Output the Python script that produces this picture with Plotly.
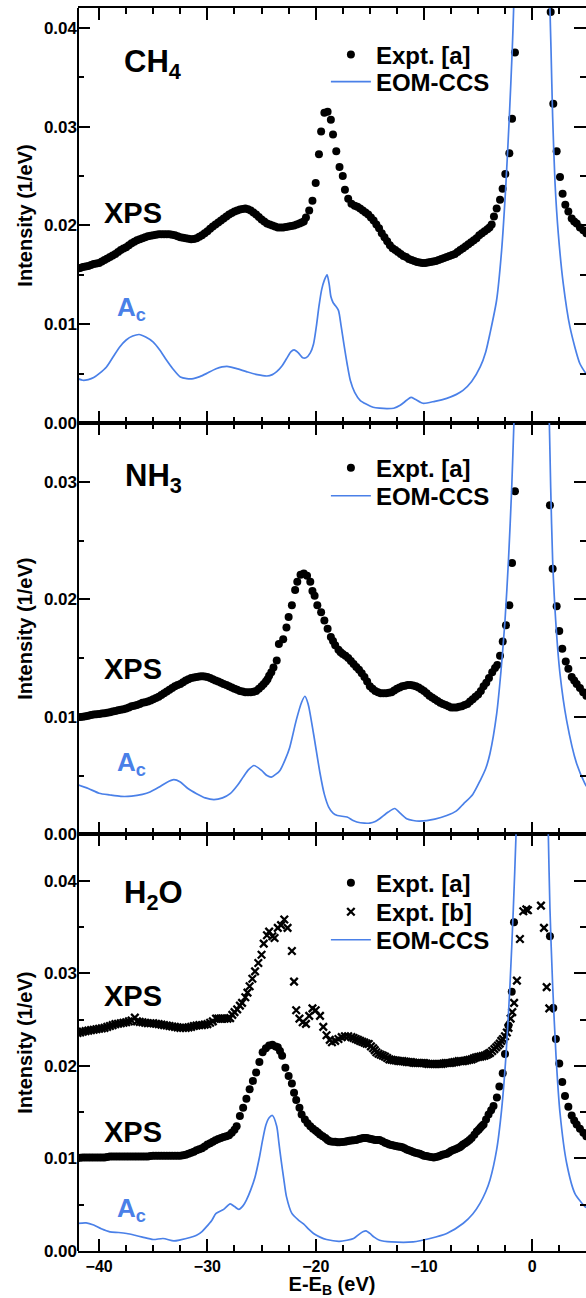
import plotly.graph_objects as go
from plotly.subplots import make_subplots

FONT = "Liberation Sans"
BLUE = "#4a80e8"

# ---------------- data (E - E_B in eV, intensity in 1/eV) ----------------
ch4_xps = [(-42.0, 0.01564), (-41.75, 0.0157), (-41.5, 0.0158), (-41.25, 0.01585), (-41.0, 0.0159),
           (-40.75, 0.0160), (-40.5, 0.0161), (-40.25, 0.01615), (-40.0, 0.0162), (-39.75, 0.01635),
           (-39.5, 0.0165), (-39.25, 0.01665), (-39.0, 0.0168), (-38.75, 0.01695), (-38.5, 0.0171),
           (-38.25, 0.0173), (-38.0, 0.0175), (-37.75, 0.01765), (-37.5, 0.0178), (-37.25, 0.0180),
           (-37.0, 0.0182), (-36.75, 0.01835), (-36.5, 0.0185), (-36.25, 0.0186), (-36.0, 0.0187),
           (-35.75, 0.0188), (-35.5, 0.0189), (-35.25, 0.01895), (-35.0, 0.0190), (-34.75, 0.01905),
           (-34.5, 0.0191), (-34.25, 0.0191), (-34.0, 0.0191), (-33.75, 0.0191), (-33.5, 0.0191),
           (-33.25, 0.01905), (-33.0, 0.0190), (-32.75, 0.0189), (-32.5, 0.0188), (-32.25, 0.01875),
           (-32.0, 0.0187), (-31.75, 0.01865), (-31.5, 0.0186), (-31.25, 0.01862), (-31.0, 0.0187),
           (-30.75, 0.01885), (-30.5, 0.0190), (-30.25, 0.0192), (-30.0, 0.0194), (-29.75, 0.01965),
           (-29.5, 0.0199), (-29.25, 0.0201), (-29.0, 0.0203), (-28.75, 0.0205), (-28.5, 0.0207),
           (-28.25, 0.0209), (-28.0, 0.0211), (-27.75, 0.02125), (-27.5, 0.0214), (-27.25, 0.0215),
           (-27.0, 0.0216), (-26.75, 0.02167), (-26.5, 0.0217), (-26.25, 0.02163), (-26.0, 0.0215),
           (-25.75, 0.0213), (-25.5, 0.0211), (-25.25, 0.02085), (-25.0, 0.0206), (-24.75, 0.0204),
           (-24.5, 0.0202), (-24.25, 0.0201), (-24.0, 0.0200), (-23.75, 0.0199), (-23.5, 0.0198),
           (-23.25, 0.0198), (-23.0, 0.0198), (-22.75, 0.01985), (-22.5, 0.0199), (-22.25, 0.01995),
           (-22.0, 0.0200), (-21.75, 0.0201), (-21.5, 0.0202), (-21.3, 0.0203), (-21.1, 0.0204),
           (-20.9, 0.0208), (-20.6, 0.0215), (-20.3, 0.0225), (-20.0, 0.0243), (-19.7, 0.0272),
           (-19.5, 0.0295), (-19.2, 0.0314), (-18.9, 0.0315), (-18.6, 0.0307), (-18.4, 0.0292),
           (-18.1, 0.0275), (-17.8, 0.0259), (-17.5, 0.0250), (-17.3, 0.0236), (-17.0, 0.0227),
           (-16.7, 0.0222), (-16.4, 0.0220), (-16.15, 0.0219), (-15.9, 0.0217), (-15.65, 0.0215),
           (-15.4, 0.0213), (-15.15, 0.0211), (-14.9, 0.0208), (-14.65, 0.0205), (-14.4, 0.0201),
           (-14.15, 0.0197), (-13.9, 0.0192), (-13.65, 0.0188), (-13.4, 0.0184), (-13.15, 0.0180),
           (-12.9, 0.0177), (-12.65, 0.0175), (-12.4, 0.0173), (-12.15, 0.0171), (-11.9, 0.0169),
           (-11.65, 0.0168), (-11.4, 0.0166), (-11.15, 0.0165), (-10.9, 0.0164), (-10.65, 0.0163),
           (-10.4, 0.01625), (-10.15, 0.0162), (-9.9, 0.0162), (-9.65, 0.01625), (-9.4, 0.0163),
           (-9.15, 0.01635), (-8.9, 0.0164), (-8.65, 0.0165), (-8.4, 0.0166), (-8.15, 0.0167),
           (-7.9, 0.0168), (-7.65, 0.0169), (-7.4, 0.0170), (-7.15, 0.0171), (-6.9, 0.0173),
           (-6.65, 0.0175), (-6.4, 0.0177), (-6.15, 0.0179), (-5.9, 0.0181), (-5.65, 0.0183),
           (-5.4, 0.0185), (-5.15, 0.0187), (-4.9, 0.0190), (-4.65, 0.0192), (-4.4, 0.0194),
           (-4.15, 0.0196), (-3.95, 0.0198), (-3.75, 0.0201), (-3.54, 0.0209), (-3.29, 0.0217),
           (-2.98, 0.0226), (-2.74, 0.0237), (-2.49, 0.0252), (-2.12, 0.0273), (-1.87, 0.0308),
           (-1.60, 0.0375),
           (1.70, 0.0416), (1.94, 0.0323), (2.25, 0.0275), (2.56, 0.0249), (2.80, 0.0232),
           (3.05, 0.0221), (3.33, 0.0214), (3.64, 0.0207), (3.87, 0.0204), (4.10, 0.0202),
           (4.4, 0.0198), (4.71, 0.0195), (5.0, 0.0192)]

ch4_eom = [(-42.0, 0.0045), (-41.5, 0.00433), (-41.0, 0.0044), (-40.5, 0.0046), (-40.0, 0.0050),
           (-39.3, 0.0057), (-38.7, 0.0067), (-38.1, 0.0077), (-37.5, 0.0084), (-36.9, 0.0088),
           (-36.3, 0.00896), (-35.7, 0.0087), (-35.0, 0.0082), (-34.4, 0.0074), (-33.8, 0.0064),
           (-33.2, 0.0055), (-32.5, 0.00466), (-31.9, 0.0045), (-31.3, 0.0045), (-30.7, 0.0047),
           (-30.1, 0.0050), (-29.2, 0.0055), (-28.2, 0.00574), (-27.3, 0.0055), (-26.4, 0.0052),
           (-25.4, 0.0049), (-24.5, 0.00476), (-24.0, 0.0049), (-23.6, 0.0052), (-23.1, 0.0058),
           (-22.7, 0.0065), (-22.3, 0.0072), (-22.0, 0.0074), (-21.6, 0.0071), (-21.2, 0.0066),
           (-20.9, 0.0066), (-20.5, 0.0071), (-20.2, 0.0080), (-19.95, 0.0097), (-19.7, 0.0118),
           (-19.45, 0.0135), (-19.2, 0.01446), (-18.95, 0.0150), (-18.75, 0.0140), (-18.6, 0.0128),
           (-18.4, 0.0122), (-18.2, 0.0119), (-17.9, 0.0114), (-17.65, 0.0098), (-17.4, 0.0080),
           (-17.1, 0.0060), (-16.8, 0.0043), (-16.4, 0.0031), (-15.9, 0.0023), (-15.3, 0.0019),
           (-14.7, 0.0016), (-14.1, 0.0015), (-13.4, 0.00146), (-12.8, 0.0015), (-12.2, 0.0018),
           (-11.6, 0.0023), (-11.2, 0.0026), (-10.8, 0.0024), (-10.1, 0.0020), (-9.0, 0.0022),
           (-7.9, 0.0025), (-7.0, 0.0029), (-6.4, 0.0033), (-5.6, 0.0042), (-4.8, 0.0057),
           (-4.3, 0.0072), (-3.9, 0.0091), (-3.3, 0.0124), (-2.83, 0.0175), (-2.43, 0.0243),
           (-2.12, 0.0310), (-1.85, 0.0378), (-1.72, 0.0420), (-1.55, 0.050),
           None,
           (1.5, 0.050), (1.63, 0.042), (1.73, 0.0378), (1.88, 0.031), (2.1, 0.0243),
           (2.4, 0.0192), (2.86, 0.0141), (3.48, 0.0097), (4.4, 0.0060), (4.96, 0.0050)]

nh3_xps = [(-42.0, 0.00997), (-41.75, 0.00998), (-41.5, 0.0100), (-41.25, 0.01005), (-41.0, 0.0101),
           (-40.75, 0.01015), (-40.5, 0.0102), (-40.25, 0.01022), (-40.0, 0.01025), (-39.75, 0.01028),
           (-39.5, 0.0103), (-39.25, 0.01035), (-39.0, 0.0104), (-38.75, 0.01045), (-38.5, 0.0105),
           (-38.25, 0.01055), (-38.0, 0.0106), (-37.75, 0.01065), (-37.5, 0.0107), (-37.25, 0.0108),
           (-37.0, 0.0109), (-36.75, 0.01095), (-36.5, 0.0110), (-36.25, 0.0111), (-36.0, 0.0112),
           (-35.75, 0.01125), (-35.5, 0.0113), (-35.25, 0.0114), (-35.0, 0.0115), (-34.75, 0.0116),
           (-34.5, 0.0117), (-34.25, 0.01185), (-34.0, 0.0120), (-33.75, 0.01215), (-33.5, 0.0123),
           (-33.25, 0.01245), (-33.0, 0.0126), (-32.75, 0.0127), (-32.5, 0.0128), (-32.25, 0.01295),
           (-32.0, 0.0131), (-31.75, 0.0132), (-31.5, 0.0133), (-31.25, 0.01335), (-31.0, 0.0134),
           (-30.75, 0.01343), (-30.5, 0.01345), (-30.25, 0.01343), (-30.0, 0.0134), (-29.75, 0.0133),
           (-29.5, 0.0132), (-29.25, 0.0131), (-29.0, 0.0130), (-28.75, 0.0129), (-28.5, 0.0128),
           (-28.25, 0.0127), (-28.0, 0.0126), (-27.75, 0.0125), (-27.5, 0.0124), (-27.25, 0.0123),
           (-27.0, 0.0122), (-26.75, 0.01215), (-26.5, 0.0121), (-26.25, 0.0121), (-26.0, 0.0121),
           (-25.75, 0.01213), (-25.5, 0.0122), (-25.25, 0.0124), (-25.0, 0.0126), (-24.8, 0.0128),
           (-24.6, 0.0130), (-24.45, 0.0132), (-24.3, 0.0135), (-24.1, 0.0138), (-23.9, 0.0142),
           (-23.6, 0.0148), (-23.4, 0.0162), (-23.0, 0.0166), (-22.7, 0.0176), (-22.5, 0.0185),
           (-22.2, 0.0195), (-21.9, 0.0208), (-21.7, 0.0215), (-21.4, 0.0221), (-21.1, 0.0222),
           (-20.8, 0.0220), (-20.5, 0.0215), (-20.3, 0.0207), (-20.1, 0.0203), (-19.85, 0.0195),
           (-19.5, 0.0189), (-19.2, 0.0182), (-18.9, 0.0175), (-18.6, 0.0168), (-18.4, 0.01645),
           (-18.2, 0.0161), (-17.9, 0.0157), (-17.7, 0.0155), (-17.5, 0.01535), (-17.25, 0.0152),
           (-17.0, 0.0150), (-16.75, 0.01475), (-16.5, 0.0145), (-16.25, 0.01425), (-16.0, 0.0140),
           (-15.75, 0.0137), (-15.5, 0.0134), (-15.25, 0.0130), (-15.0, 0.0126), (-14.75, 0.0124),
           (-14.5, 0.0122), (-14.25, 0.0121), (-14.0, 0.0120), (-13.75, 0.0120), (-13.5, 0.0120),
           (-13.25, 0.01205), (-13.0, 0.0121), (-12.75, 0.01225), (-12.5, 0.0124), (-12.25, 0.0125),
           (-12.0, 0.0126), (-11.75, 0.01265), (-11.5, 0.0127), (-11.25, 0.0127), (-11.0, 0.01266),
           (-10.75, 0.0126), (-10.5, 0.0125), (-10.25, 0.01235), (-10.0, 0.0122), (-9.75, 0.0120),
           (-9.5, 0.0118), (-9.25, 0.01165), (-9.0, 0.0115), (-8.75, 0.01135), (-8.5, 0.0112),
           (-8.25, 0.0111), (-8.0, 0.0110), (-7.75, 0.0109), (-7.5, 0.0108), (-7.25, 0.0108),
           (-7.0, 0.0108), (-6.75, 0.01085), (-6.5, 0.0109), (-6.25, 0.0110), (-6.0, 0.0111),
           (-5.75, 0.0113), (-5.5, 0.0115), (-5.25, 0.0117), (-5.0, 0.0119), (-4.75, 0.0122),
           (-4.5, 0.0126), (-4.25, 0.0129), (-4.0, 0.0133), (-3.7, 0.0138), (-3.44, 0.01416),
           (-3.23, 0.0144), (-2.98, 0.0152), (-2.73, 0.0164), (-2.43, 0.0178), (-2.12, 0.0195),
           (-1.87, 0.0231), (-1.6, 0.0292),
           (1.63, 0.0280), (1.88, 0.0226), (2.25, 0.0194), (2.49, 0.0173), (2.77, 0.0158),
           (3.09, 0.0147), (3.33, 0.0141), (3.64, 0.0134), (3.87, 0.0131), (4.1, 0.0128),
           (4.4, 0.01245), (4.7, 0.0121), (5.0, 0.0118)]

nh3_eom = [(-42.0, 0.00422), (-41.0, 0.0039), (-40.0, 0.0035), (-39.0, 0.00335), (-38.0, 0.00323),
           (-37.0, 0.00325), (-36.0, 0.0034), (-35.3, 0.0036), (-34.5, 0.0040), (-33.8, 0.0044),
           (-33.1, 0.00465), (-32.5, 0.00445), (-31.8, 0.0039), (-31.0, 0.00346), (-30.2, 0.0031),
           (-29.4, 0.00295), (-28.6, 0.0031), (-27.9, 0.00346), (-27.2, 0.0042), (-26.7, 0.00487),
           (-26.2, 0.0055), (-25.7, 0.00586), (-25.0, 0.00544), (-24.5, 0.0050), (-24.1, 0.00487),
           (-23.7, 0.0051), (-23.3, 0.00544), (-22.8, 0.0064), (-22.4, 0.0074), (-21.8, 0.0097),
           (-21.3, 0.01124), (-21.0, 0.01175), (-20.7, 0.0111), (-20.2, 0.00856), (-19.6, 0.0052),
           (-19.2, 0.0034), (-18.8, 0.00232), (-18.4, 0.0018), (-18.0, 0.0016), (-17.1, 0.00147),
           (-16.6, 0.0012), (-16.2, 0.00105), (-15.5, 0.00095), (-15.0, 0.00096), (-14.5, 0.0011),
           (-14.1, 0.00133), (-13.3, 0.0019), (-12.7, 0.0022), (-12.2, 0.0018), (-11.6, 0.00133),
           (-11.0, 0.00118), (-10.4, 0.00113), (-9.0, 0.0013), (-7.9, 0.0016), (-7.0, 0.0020),
           (-6.35, 0.0026), (-5.5, 0.0034), (-4.8, 0.0046), (-4.3, 0.0056), (-3.9, 0.0069),
           (-3.29, 0.01025), (-2.89, 0.0139), (-2.52, 0.0182), (-2.2, 0.0233), (-1.9, 0.0295),
           (-1.69, 0.0352), (-1.5, 0.041),
           None,
           (1.4, 0.041), (1.57, 0.0352), (1.7, 0.0295), (1.88, 0.0233), (2.16, 0.0182),
           (2.56, 0.01365), (3.17, 0.0097), (4.1, 0.0060), (4.87, 0.0043), (5.0, 0.0041)]

h2o_xps_a = [(-42.0, 0.01004), (-41.75, 0.01006), (-41.5, 0.0101), (-41.25, 0.0101), (-41.0, 0.0101),
             (-40.75, 0.0101), (-40.5, 0.0101), (-40.25, 0.0101), (-40.0, 0.0101), (-39.75, 0.0101),
             (-39.5, 0.0101), (-39.25, 0.01015), (-39.0, 0.0102), (-38.75, 0.0102), (-38.5, 0.0102),
             (-38.25, 0.0102), (-38.0, 0.0102), (-37.75, 0.0102), (-37.5, 0.0102), (-37.25, 0.0102),
             (-37.0, 0.0102), (-36.75, 0.0102), (-36.5, 0.0102), (-36.25, 0.0102), (-36.0, 0.0102),
             (-35.75, 0.0102), (-35.5, 0.0102), (-35.25, 0.01025), (-35.0, 0.0103), (-34.75, 0.0103),
             (-34.5, 0.0103), (-34.25, 0.0103), (-34.0, 0.0103), (-33.75, 0.0103), (-33.5, 0.0103),
             (-33.25, 0.0103), (-33.0, 0.0103), (-32.75, 0.0103), (-32.5, 0.0103), (-32.25, 0.01035),
             (-32.0, 0.0104), (-31.75, 0.0105), (-31.5, 0.0106), (-31.25, 0.01072), (-31.0, 0.01087),
             (-30.75, 0.0110), (-30.5, 0.0111), (-30.25, 0.0113), (-30.0, 0.0115), (-29.75, 0.01165),
             (-29.5, 0.0118), (-29.25, 0.01195), (-29.0, 0.0121), (-28.75, 0.0122), (-28.5, 0.0123),
             (-28.25, 0.0124), (-28.0, 0.0125), (-27.75, 0.01276), (-27.5, 0.0131), (-27.3, 0.01348),
             (-27.0, 0.01457), (-26.7, 0.01548), (-26.4, 0.01645), (-26.1, 0.01747), (-25.8, 0.01837),
             (-25.5, 0.01928), (-25.2, 0.0204), (-24.9, 0.02146), (-24.6, 0.0219), (-24.3, 0.0222),
             (-24.0, 0.02228), (-23.7, 0.0221), (-23.5, 0.0220), (-23.3, 0.0216), (-23.1, 0.0211),
             (-22.8, 0.0198), (-22.5, 0.0189), (-22.2, 0.0181), (-22.0, 0.0171), (-21.8, 0.0163),
             (-21.5, 0.01548), (-21.3, 0.01475), (-21.0, 0.0142), (-20.75, 0.0138), (-20.5, 0.01348),
             (-20.25, 0.0132), (-20.0, 0.0130), (-19.8, 0.0128), (-19.6, 0.01258), (-19.35, 0.0124),
             (-19.1, 0.0122), (-18.9, 0.0120), (-18.7, 0.01185), (-18.45, 0.0118), (-18.2, 0.0118),
             (-18.0, 0.01175), (-17.8, 0.01174), (-17.55, 0.01176), (-17.3, 0.0118), (-17.1, 0.01185),
             (-16.9, 0.0119), (-16.7, 0.01193), (-16.5, 0.01196), (-16.25, 0.0120), (-16.0, 0.0121),
             (-15.8, 0.01215), (-15.6, 0.0122), (-15.45, 0.0122), (-15.3, 0.0122), (-15.1, 0.01215),
             (-14.9, 0.0121), (-14.7, 0.01205), (-14.5, 0.0120), (-14.3, 0.0120), (-14.1, 0.0120),
             (-13.85, 0.01185), (-13.6, 0.0117), (-13.4, 0.0116), (-13.2, 0.0115), (-13.0, 0.01145),
             (-12.8, 0.0114), (-12.6, 0.01135), (-12.4, 0.0113), (-12.2, 0.01125), (-12.0, 0.0112),
             (-11.8, 0.0111), (-11.6, 0.01095), (-11.4, 0.01088), (-11.2, 0.0108), (-11.0, 0.0107),
             (-10.8, 0.0106), (-10.6, 0.01055), (-10.4, 0.0105), (-10.2, 0.0104), (-10.0, 0.0103),
             (-9.8, 0.01025), (-9.6, 0.0102), (-9.35, 0.01015), (-9.1, 0.0101), (-8.9, 0.01015),
             (-8.7, 0.0102), (-8.5, 0.0103), (-8.3, 0.0104), (-8.1, 0.01045), (-7.9, 0.0105),
             (-7.7, 0.01065), (-7.5, 0.0108), (-7.3, 0.0109), (-7.1, 0.0110), (-6.9, 0.0111),
             (-6.7, 0.0112), (-6.55, 0.01135), (-6.4, 0.01149), (-6.2, 0.01165), (-6.0, 0.0118),
             (-5.8, 0.0120), (-5.6, 0.0122), (-5.35, 0.01255), (-5.13, 0.0129), (-4.95, 0.0131),
             (-4.8, 0.0133), (-4.65, 0.0135), (-4.5, 0.01366), (-4.27, 0.0142), (-4.04, 0.01475),
             (-3.8, 0.0152), (-3.58, 0.01565), (-3.27, 0.01657), (-3.04, 0.01776), (-2.73, 0.0192),
             (-2.52, 0.02127), (-2.2, 0.02435), (-1.9, 0.0280), (-1.69, 0.0355),
             (1.63, 0.0340), (1.94, 0.02624), (2.18, 0.0229), (2.49, 0.02026), (2.77, 0.01826),
             (3.02, 0.01674), (3.33, 0.01559), (3.64, 0.01464), (3.87, 0.0141), (4.1, 0.01366),
             (4.4, 0.0132), (4.72, 0.01276), (5.0, 0.0124)]

h2o_xps_b = [(-42.0, 0.02355), (-41.75, 0.0236), (-41.5, 0.0237), (-41.25, 0.02375), (-41.0, 0.0238),
             (-40.75, 0.02385), (-40.5, 0.0239), (-40.25, 0.02395), (-40.0, 0.0240), (-39.75, 0.02405),
             (-39.5, 0.0241), (-39.25, 0.0242), (-39.0, 0.0243), (-38.75, 0.0244), (-38.5, 0.0245),
             (-38.25, 0.02455), (-38.0, 0.0246), (-37.75, 0.02465), (-37.5, 0.0247), (-37.25, 0.0248),
             (-37.0, 0.0249), (-36.7, 0.0252), (-36.5, 0.0248), (-36.25, 0.02475), (-36.0, 0.0247),
             (-35.75, 0.02465), (-35.5, 0.0246), (-35.25, 0.0246), (-35.0, 0.0246), (-34.75, 0.02455),
             (-34.5, 0.0245), (-34.25, 0.02445), (-34.0, 0.0244), (-33.75, 0.02435), (-33.5, 0.0243),
             (-33.25, 0.02425), (-33.0, 0.0242), (-32.75, 0.02415), (-32.5, 0.0241), (-32.25, 0.0241),
             (-32.0, 0.0241), (-31.75, 0.02415), (-31.5, 0.0242), (-31.25, 0.0243), (-31.0, 0.02435),
             (-30.75, 0.0244), (-30.5, 0.0244), (-30.25, 0.02445), (-30.0, 0.0245), (-29.75, 0.02465),
             (-29.5, 0.0248), (-29.2, 0.0251), (-29.0, 0.0251), (-28.8, 0.0251), (-28.6, 0.0251),
             (-28.4, 0.0251), (-28.15, 0.0251), (-27.9, 0.02515), (-27.7, 0.0255), (-27.5, 0.0258),
             (-27.25, 0.0261), (-27.0, 0.0265), (-26.8, 0.0268), (-26.5, 0.0274), (-26.3, 0.0279),
             (-26.1, 0.0286), (-25.85, 0.0294), (-25.6, 0.0302), (-25.3, 0.0311), (-25.0, 0.0320),
             (-24.8, 0.0332), (-24.5, 0.0341), (-24.3, 0.0345), (-24.0, 0.0340), (-23.8, 0.0338),
             (-23.5, 0.0349), (-23.2, 0.0352), (-22.9, 0.0358), (-22.6, 0.0349), (-22.2, 0.0324),
             (-22.0, 0.0291), (-21.8, 0.0260), (-21.5, 0.0251), (-21.2, 0.0247), (-20.9, 0.02453),
             (-20.6, 0.0254), (-20.3, 0.0262), (-20.0, 0.0260), (-19.6, 0.0254), (-19.3, 0.0242),
             (-19.0, 0.0233), (-18.7, 0.0228), (-18.5, 0.02254), (-18.2, 0.0227), (-17.9, 0.0229),
             (-17.6, 0.0231), (-17.3, 0.0232), (-17.0, 0.0232), (-16.7, 0.0231), (-16.5, 0.0230),
             (-16.3, 0.0229), (-16.1, 0.0228), (-15.9, 0.0227), (-15.7, 0.0226), (-15.5, 0.0225),
             (-15.3, 0.0224), (-15.1, 0.02236), (-14.9, 0.0221), (-14.7, 0.0219), (-14.55, 0.0217),
             (-14.4, 0.02146), (-14.2, 0.0213), (-14.0, 0.0212), (-13.8, 0.0211), (-13.6, 0.0210),
             (-13.4, 0.02085), (-13.2, 0.0207), (-13.0, 0.02065), (-12.8, 0.0206), (-12.6, 0.02057),
             (-12.4, 0.02054), (-12.2, 0.0205), (-12.0, 0.0205), (-11.8, 0.02047), (-11.6, 0.02043),
             (-11.4, 0.0204), (-11.2, 0.0204), (-11.0, 0.02035), (-10.8, 0.0203), (-10.6, 0.0203),
             (-10.4, 0.0203), (-10.2, 0.0203), (-10.0, 0.0203), (-9.8, 0.02025), (-9.6, 0.0202),
             (-9.4, 0.0202), (-9.2, 0.0202), (-9.0, 0.0202), (-8.8, 0.0202), (-8.6, 0.0202),
             (-8.4, 0.0202), (-8.2, 0.02025), (-8.0, 0.0203), (-7.8, 0.0203), (-7.6, 0.0203),
             (-7.4, 0.02035), (-7.2, 0.0204), (-7.0, 0.02043), (-6.8, 0.0205), (-6.6, 0.0205),
             (-6.4, 0.0205), (-6.2, 0.02055), (-6.0, 0.0206), (-5.8, 0.02065), (-5.6, 0.0207),
             (-5.4, 0.0208), (-5.2, 0.0209), (-5.0, 0.02095), (-4.8, 0.0210), (-4.6, 0.02105),
             (-4.4, 0.0211), (-4.2, 0.0212), (-4.05, 0.0213), (-3.9, 0.0214), (-3.7, 0.0216),
             (-3.5, 0.0218), (-3.33, 0.0220), (-3.17, 0.0222), (-3.0, 0.0224), (-2.86, 0.0227),
             (-2.7, 0.0229), (-2.52, 0.0232), (-2.35, 0.0236), (-2.2, 0.0241), (-2.0, 0.0251),
             (-1.85, 0.0258), (-1.68, 0.0268), (-1.42, 0.0292), (-1.14, 0.0337), (-0.83, 0.0367),
             (-0.55, 0.0369), (-0.4, 0.0368),
             (0.8, 0.0373), (1.08, 0.0349), (1.33, 0.0285), (1.57, 0.0262)]

h2o_eom = [(-42.0, 0.00298), (-41.2, 0.00304), (-40.5, 0.0028), (-39.8, 0.0024), (-39.0, 0.00207),
           (-38.2, 0.0020), (-37.45, 0.00189), (-36.7, 0.0017), (-36.0, 0.0015), (-35.0, 0.00124),
           (-34.1, 0.00135), (-33.1, 0.00109), (-32.5, 0.0012), (-31.6, 0.00146), (-31.0, 0.0017),
           (-30.5, 0.0021), (-30.1, 0.0026), (-29.6, 0.0033), (-29.2, 0.00406), (-28.5, 0.0045),
           (-27.9, 0.00508), (-27.5, 0.0048), (-27.1, 0.0045), (-26.7, 0.0049), (-26.4, 0.0055),
           (-26.0, 0.0066), (-25.6, 0.0080), (-25.2, 0.0101), (-24.9, 0.0120), (-24.6, 0.0136),
           (-24.3, 0.01439), (-24.0, 0.01464), (-23.6, 0.01348), (-23.4, 0.0117), (-23.2, 0.00986),
           (-22.95, 0.0078), (-22.7, 0.00587), (-22.2, 0.00406), (-21.6, 0.00334), (-21.1, 0.0029),
           (-20.6, 0.0023), (-20.2, 0.00189), (-19.6, 0.0015), (-19.0, 0.00124), (-17.8, 0.00105),
           (-16.5, 0.00135), (-16.0, 0.0018), (-15.6, 0.0021), (-15.35, 0.00217), (-15.0, 0.0019),
           (-14.6, 0.0015), (-14.1, 0.00116), (-13.0, 0.00098), (-11.0, 0.00098), (-9.45, 0.00135),
           (-7.9, 0.00189), (-6.37, 0.0030), (-5.5, 0.0040), (-4.83, 0.00515), (-4.3, 0.0064),
           (-3.9, 0.0077), (-3.29, 0.01095), (-2.83, 0.0153), (-2.43, 0.0211), (-2.06, 0.0287),
           (-1.75, 0.0370), (-1.5, 0.0450), (-1.35, 0.052),
           None,
           (1.35, 0.052), (1.48, 0.045), (1.63, 0.037), (1.88, 0.0287), (2.19, 0.0211),
           (2.56, 0.0149), (3.17, 0.0095), (3.94, 0.0062), (4.86, 0.0048), (5.0, 0.0047)]

x_range = [-41.95, 4.96]
y_ranges = [[0, 0.042], [0, 0.035], [0, 0.045]]


def split(pts):
    xs, ys = [], []
    for p in pts:
        if p is None:
            xs.append(None)
            ys.append(None)
        else:
            xs.append(p[0])
            ys.append(p[1])
    return xs, ys


fig = make_subplots(rows=3, cols=1, vertical_spacing=0)


def dots(pts, row, legend, name="Expt. [a]"):
    x, y = split(pts)
    fig.add_trace(go.Scatter(x=x, y=y, mode="markers", name=name, legend=legend,
                             marker=dict(symbol="circle", size=8, color="black")),
                  row=row, col=1)


def crosses(pts, row, legend, name="Expt. [b]"):
    x, y = split(pts)
    fig.add_trace(go.Scatter(x=x, y=y, mode="markers", name=name, legend=legend,
                             marker=dict(symbol="x-thin", size=7.5, color="black",
                                         line=dict(color="black", width=2.3))),
                  row=row, col=1)


def eom(pts, row, legend):
    x, y = split(pts)
    fig.add_trace(go.Scatter(x=x, y=y, mode="lines", name="EOM-CCS", legend=legend,
                             line=dict(color=BLUE, width=1.7, shape="spline", smoothing=0.7),
                             connectgaps=False),
                  row=row, col=1)


dots(ch4_xps, 1, "legend")
eom(ch4_eom, 1, "legend4")
dots(nh3_xps, 2, "legend2")
eom(nh3_eom, 2, "legend5")
dots(h2o_xps_a, 3, "legend3")
crosses(h2o_xps_b, 3, "legend6")
eom(h2o_eom, 3, "legend7")

ytickfont = dict(family=FONT, size=17, color="black", weight="bold")
xtickfont = dict(family=FONT, size=16, color="black", weight="bold")
domains = [[0.6661, 1.0], [0.3352, 0.6661], [0.0, 0.3352]]

for i in range(3):
    xa = "xaxis" if i == 0 else f"xaxis{i+1}"
    ya = "yaxis" if i == 0 else f"yaxis{i+1}"
    fig.layout[xa].update(
        range=x_range, showline=True, linecolor="black", linewidth=2, mirror="ticks",
        ticks="inside", ticklen=12, tickwidth=1.5, tickcolor="black",
        tick0=0, dtick=10, showgrid=False, zeroline=False,
        minor=dict(ticks="inside", ticklen=6, tickwidth=1.5, tickcolor="black", dtick=2.5, tick0=0,
                   showgrid=False),
        showticklabels=(i == 2), tickfont=xtickfont,
    )
    fig.layout[ya].update(
        domain=domains[i], range=y_ranges[i], showline=False, mirror="ticks",
        ticks="inside", ticklen=12, tickwidth=1.5, tickcolor="black",
        tick0=0, dtick=0.01, tickformat=".2f", showgrid=False, zeroline=False,
        minor=dict(ticks="inside", ticklen=6, tickwidth=1.5, tickcolor="black", dtick=0.005,
                   tick0=0, showgrid=False),
        tickfont=ytickfont,
        title=dict(text="Intensity (1/eV)", font=dict(family=FONT, size=20, color="black",
                                                     weight="bold"), standoff=5),
    )

fig.layout.xaxis3.title = dict(text="E-E<sub>B</sub> (eV)",
                               font=dict(family=FONT, size=20, color="black", weight="bold"),
                               standoff=7)

# left frame line
fig.add_shape(type="line", xref="paper", yref="paper", x0=0, x1=0, y0=0, y1=1,
              line=dict(color="black", width=2))

legend_common = dict(xanchor="left", yanchor="middle", bgcolor="rgba(0,0,0,0)", borderwidth=0,
                     itemwidth=40, tracegroupgap=0,
                     font=dict(family=FONT, size=24, color="black", weight="bold"))
LX = 0.488
fig.update_layout(
    legend=dict(x=LX, y=0.9622, **legend_common),
    legend4=dict(x=LX, y=0.9405, **legend_common),
    legend2=dict(x=LX, y=0.6298, **legend_common),
    legend5=dict(x=LX, y=0.6073, **legend_common),
    legend3=dict(x=LX, y=0.2959, **legend_common),
    legend6=dict(x=LX, y=0.2726, **legend_common),
    legend7=dict(x=LX, y=0.2501, **legend_common),
)

big = dict(family=FONT, size=31, color="black", weight="bold")
mid = dict(family=FONT, size=29, color="black", weight="bold")
blue_font = dict(family=FONT, size=26, color=BLUE, weight="bold")


def label(text, x, y, row, font):
    xr = "x" if row == 1 else f"x{row}"
    yr = "y" if row == 1 else f"y{row}"
    fig.add_annotation(text=text, x=x, y=y, xref=xr, yref=yr, xanchor="left", yanchor="middle",
                       showarrow=False, font=font)


label("CH<sub>4</sub>", -37.9, 0.0363, 1, big)
label("XPS", -39.7, 0.0213, 1, mid)
label("A<sub>c</sub>", -38.5, 0.0116, 1, blue_font)

label("NH<sub>3</sub>", -37.8, 0.0303, 2, big)
label("XPS", -39.7, 0.0141, 2, mid)
label("A<sub>c</sub>", -38.5, 0.0060, 2, blue_font)

label("H<sub>2</sub>O", -37.9, 0.0384, 3, big)
label("XPS", -39.7, 0.0275, 3, mid)
label("XPS", -39.7, 0.0129, 3, mid)
label("A<sub>c</sub>", -38.5, 0.0045, 3, blue_font)

fig.update_layout(
    width=586, height=1298,
    margin=dict(l=78, r=0, t=8, b=47),
    plot_bgcolor="white", paper_bgcolor="white",
    showlegend=True,
)

fig.write_html("out.html")
